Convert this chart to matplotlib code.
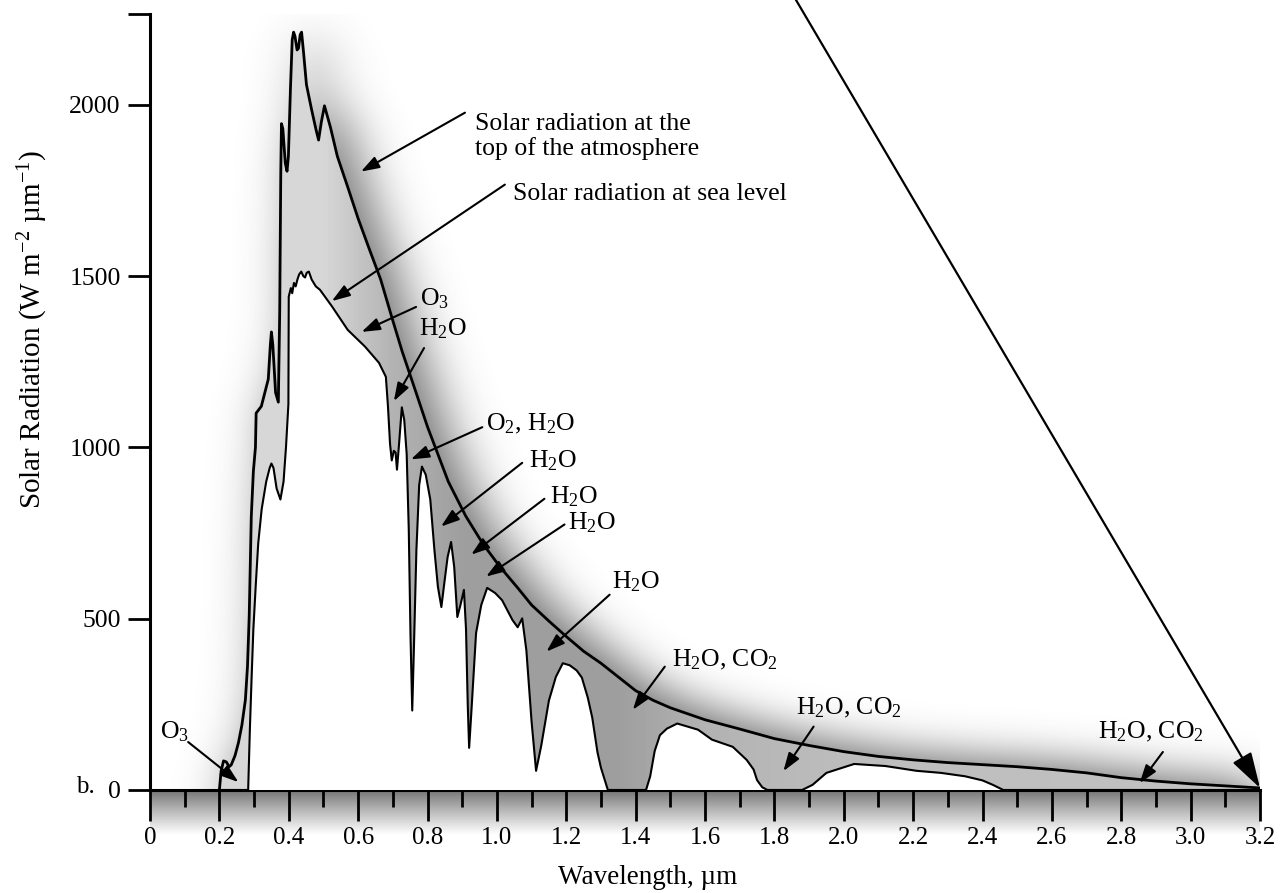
import numpy as np
import matplotlib
matplotlib.use('Agg')
import matplotlib.pyplot as plt
from matplotlib.ticker import FixedLocator, MultipleLocator

plt.rcParams['font.family'] = ['Liberation Serif', 'DejaVu Serif']
plt.rcParams['mathtext.fontset'] = 'custom'
plt.rcParams['mathtext.rm'] = 'Liberation Serif'
plt.rcParams['mathtext.it'] = 'Liberation Serif:italic'

############################################################
# Data (wavelength in um, W m-2 um-1)

# solar radiation at the top of the atmosphere
toa_wl = [0.200, 0.205, 0.212, 0.220, 0.228, 0.234, 0.245, 0.255, 0.265, 0.275,
          0.281, 0.286, 0.292, 0.298, 0.304, 0.306, 0.321, 0.341, 0.347, 0.350,
          0.354, 0.362, 0.370, 0.374, 0.377, 0.379, 0.383, 0.390, 0.395, 0.399,
          0.405, 0.410, 0.414, 0.418, 0.424, 0.428, 0.433, 0.437, 0.442, 0.451,
          0.465, 0.478, 0.486, 0.494, 0.503, 0.520, 0.540, 0.570, 0.600, 0.630,
          0.665, 0.700, 0.727, 0.767, 0.800, 0.860, 0.910, 0.960, 1.010, 1.060,
          1.100, 1.150, 1.200, 1.250, 1.300, 1.350, 1.400, 1.450, 1.500, 1.600,
          1.700, 1.800, 1.900, 2.000, 2.100, 2.200, 2.300, 2.400, 2.500, 2.600,
          2.700, 2.800, 2.900, 3.000, 3.100, 3.200]
toa_flux = [0, 55, 85, 82, 68, 73, 100, 138, 190, 263,
            360, 506, 798, 930, 1000, 1100, 1120, 1199, 1300, 1337,
            1300, 1160, 1132, 1400, 1800, 1945, 1930, 1830, 1806, 1850,
            2050, 2190, 2212, 2200, 2160, 2165, 2205, 2212, 2160, 2059,
            1990, 1930, 1897, 1950, 1997, 1935, 1850, 1760, 1668, 1585,
            1490, 1370, 1280, 1160, 1060, 900, 800, 718, 650, 590,
            540, 493, 448, 405, 370, 330, 290, 262, 240, 205,
            178, 150, 130, 112, 98, 88, 80, 74, 68, 60,
            50, 36, 26, 18, 12, 6]

# solar radiation at sea level
sea_wl = [0.200, 0.283, 0.288, 0.293, 0.298, 0.305, 0.312, 0.322, 0.335, 0.345,
          0.350, 0.356, 0.365, 0.376, 0.385, 0.392, 0.399, 0.400, 0.406, 0.410,
          0.415, 0.420, 0.425, 0.430, 0.436, 0.442, 0.447, 0.452, 0.458, 0.466,
          0.478, 0.490, 0.525, 0.570, 0.620, 0.660, 0.680, 0.686, 0.692, 0.697,
          0.703, 0.708, 0.712, 0.718, 0.726, 0.733, 0.740, 0.746, 0.751, 0.756,
          0.761, 0.768, 0.776, 0.784, 0.795, 0.808, 0.820, 0.830, 0.840, 0.848,
          0.858, 0.868, 0.877, 0.886, 0.895, 0.905, 0.911, 0.916, 0.920, 0.926,
          0.940, 0.955, 0.972, 0.995, 1.015, 1.045, 1.060, 1.073, 1.085, 1.100,
          1.113, 1.128, 1.150, 1.170, 1.190, 1.210, 1.230, 1.245, 1.262, 1.275,
          1.290, 1.300, 1.320, 1.430, 1.442, 1.455, 1.470, 1.490, 1.520, 1.540,
          1.580, 1.620, 1.680, 1.720, 1.740, 1.750, 1.765, 1.780, 1.880, 1.910,
          1.950, 2.030, 2.120, 2.210, 2.280, 2.350, 2.400, 2.430, 2.460, 3.200]
sea_flux = [0, 0, 180, 330, 470, 600, 720, 820, 900, 940,
            953, 940, 880, 848, 900, 1000, 1126, 1440, 1465, 1450,
            1480, 1470, 1490, 1505, 1513, 1500, 1496, 1510, 1513, 1490,
            1470, 1460, 1411, 1343, 1294, 1247, 1206, 1120, 1010, 962,
            990, 985, 935, 1010, 1117, 1080, 980, 760, 450, 232,
            420, 700, 890, 944, 920, 848, 700, 593, 534, 600,
            680, 724, 651, 505, 540, 584, 470, 250, 123, 220,
            458, 540, 590, 575, 554, 496, 475, 501, 408, 200,
            56, 130, 261, 330, 370, 364, 349, 328, 270, 211,
            110, 65, 0, 0, 40, 114, 160, 179, 194, 188,
            176, 147, 126, 88, 60, 29, 8, 0, 0, 15,
            50, 76, 70, 56, 50, 40, 28, 15, 0, 0]

x_ticks = [0, 0.2, 0.4, 0.6, 0.8, 1.0, 1.2, 1.4, 1.6, 1.8, 2.0, 2.2, 2.4, 2.6, 2.8, 3.0, 3.2]
x_tick_labels = ['0', '0.2', '0.4', '0.6', '0.8', '1.0', '1.2', '1.4', '1.6', '1.8',
                 '2.0', '2.2', '2.4', '2.6', '2.8', '3.0', '3.2']
y_ticks = [0, 500, 1000, 1500, 2000]
y_top = 2265

H2O = 'H$_\\mathregular{2}$O'
CO2 = 'CO$_\\mathregular{2}$'

# label, text anchor (left, centre), arrow tail, arrow tip
notes = [
    ('Solar radiation at the\ntop of the atmosphere', (0.937, 1907), (0.908, 1977), (0.608, 1805)),
    ('Solar radiation at sea level', (1.046, 1740), (1.023, 1767), (0.524, 1427)),
    ('O$_\\mathregular{3}$', (0.778, 1433), (0.767, 1410), (0.610, 1337)),
    (H2O, (0.775, 1345), (0.790, 1290), (0.703, 1135)),
    ('O$_\\mathregular{2}$, ' + H2O, (0.969, 1068), (0.958, 1059), (0.752, 965)),
    (H2O, (1.094, 962), (1.073, 955), (0.839, 769)),
    (H2O, (1.152, 857), (1.137, 850), (0.926, 687)),
    (H2O, (1.204, 781), (1.195, 775), (0.969, 623)),
    (H2O, (1.331, 608), (1.325, 570), (1.143, 404)),
    (H2O + ', ' + CO2, (1.505, 380), (1.484, 360), (1.392, 234)),
    (H2O + ', ' + CO2, (1.862, 240), (1.913, 185), (1.826, 55)),
    (H2O + ', ' + CO2, (2.734, 170), (2.920, 111), (2.853, 20)),
    ('O$_\\mathregular{3}$', (0.029, 170), (0.110, 140), (0.255, 23)),
]

############################################################


def blur(a, sigma, axis):
    # separable gaussian blur along one axis
    r = int(3 * sigma)
    k = np.exp(-0.5 * (np.arange(-r, r + 1) / sigma) ** 2)
    k /= k.sum()
    return np.apply_along_axis(lambda v: np.convolve(v, k, mode='same'), axis, a)


fig = plt.figure(figsize=(12.8, 8.93), dpi=100, facecolor='white')
ax = fig.add_axes([150/1280, 103/893, 1110/1280, 776/893])
ax.set_zorder(2)
ax.patch.set_visible(False)

# shaded ruler band under the wavelength axis
band = fig.add_axes([150/1280, 58/893, 1110/1280, 45/893])
band.set_zorder(1)
band.imshow(np.linspace(0.38, 1.0, 60).reshape(-1, 1) ** 0.8, cmap='gray', vmin=0, vmax=1,
            aspect='auto', extent=[0, 1, 0, 1])
band.axis('off')

# soft drop shadow of the top of atmosphere curve (blurred, pushed right)
gx = np.linspace(0, 3.2, 640)
gy = np.linspace(-300, 2500, 560)
mask = (gy[:, None] < np.interp(gx, toa_wl, toa_flux)[None, :]).astype(float)
mask[:, gx < 0.2] = 0
sx, sy = 9, 3  # shift in cells: right, up
moved = np.zeros_like(mask)
moved[sy:, sx:] = mask[:-sy, :-sx]
soft = blur(blur(moved, 15.0, 1), 12.0, 0)
rgba = np.zeros(soft.shape + (4,))
rgba[..., :3] = 0.25
rgba[..., 3] = np.clip(soft, 0, 1) * 0.75
ax.imshow(rgba, origin='lower', aspect='auto', extent=[0, 3.2, -300, 2500],
          interpolation='bilinear', zorder=1)

# area between the two curves, darker where the bands are deep
poly = ax.fill(np.r_[toa_wl, sea_wl[::-1]], np.r_[toa_flux, sea_flux[::-1]],
               facecolor='none', lw=0, zorder=2)[0]
sx_grid = np.linspace(0.2, 3.2, 300)
shade = np.interp(sx_grid, [0.2, 0.5, 0.7, 0.9, 1.35, 1.6, 2.0, 3.2],
                  [0.84, 0.84, 0.70, 0.62, 0.62, 0.70, 0.74, 0.76])
img = ax.imshow(shade.reshape(1, -1), cmap='gray', vmin=0, vmax=1, aspect='auto',
                extent=[0.2, 3.2, 0, 2300], zorder=2, interpolation='bilinear')
img.set_clip_path(poly)

# clear region below the sea level curve
ax.fill(sea_wl, sea_flux, color='white', lw=0, zorder=3)

ax.plot(toa_wl, toa_flux, color='black', lw=2.0, zorder=4)
ax.plot(sea_wl, sea_flux, color='black', lw=1.5, zorder=4)

arrow = dict(arrowstyle='-|>,head_length=0.5,head_width=0.17', mutation_scale=22,
             lw=1.5, color='black', shrinkA=0, shrinkB=0)
for label, txy, tail, tip in notes:
    ax.text(txy[0], txy[1], label, fontsize=18.5, ha='left', va='center',
            linespacing=1.15, zorder=6)
    ax.annotate('', xy=tip, xytext=tail, arrowprops=arrow, zorder=6)

# long arrow down to 3.2 um
ax.annotate('', xy=(3.2, 6), xytext=(1.86, 2310), annotation_clip=False, zorder=6,
            arrowprops=dict(arrowstyle='-|>,head_length=1.0,head_width=0.3', mutation_scale=22,
                            lw=1.6, color='black', shrinkA=0, shrinkB=0))

ax.set_xlim(0, 3.2)
ax.set_ylim(0, y_top)

for s in ['top', 'right']:
    ax.spines[s].set_visible(False)
ax.spines['left'].set_linewidth(2.2)
ax.spines['bottom'].set_linewidth(2.2)

ax.set_xticks(x_ticks)
ax.set_xticklabels(x_tick_labels)
ax.xaxis.set_minor_locator(MultipleLocator(0.1))
ax.set_yticks(y_ticks)
ax.set_yticklabels([str(v) for v in y_ticks])
ax.yaxis.set_minor_locator(FixedLocator([y_top]))

ax.tick_params(axis='y', which='both', direction='out', length=16, width=2, labelsize=18.5, pad=5)
ax.tick_params(axis='x', which='major', direction='out', length=22, width=2, labelsize=18, pad=5)
ax.tick_params(axis='x', which='minor', direction='out', length=12, width=2)

fig.text(648/1280, 1 - 877/893, 'Wavelength, µm', ha='center', va='center', fontsize=19.5)
fig.text(33/1280, 1 - 330/893, 'Solar Radiation (W m$^{\\mathregular{-2}}$ µm$^{\\mathregular{-1}}$)',
         rotation=90, ha='center', va='center', fontsize=21)
fig.text(85/1280, 1 - 787/893, 'b.', ha='center', va='center', fontsize=18)

plt.savefig('out.png', dpi=100, facecolor='white')
